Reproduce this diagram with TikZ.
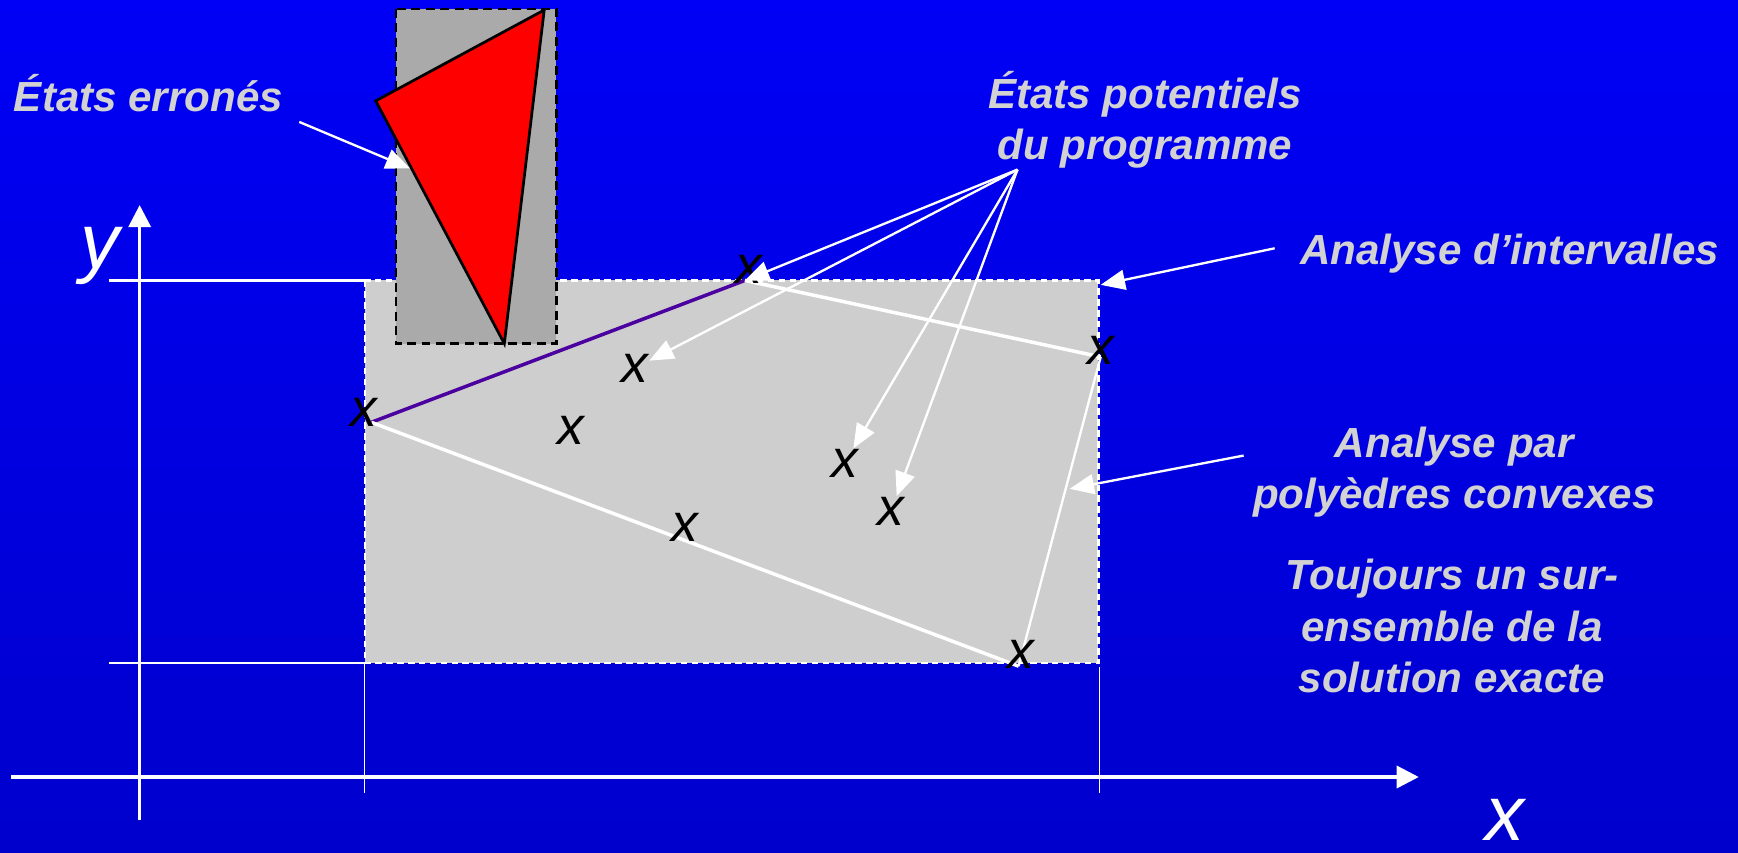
\documentclass[tikz,border=0pt]{standalone}
\usepackage{fontspec}
\setmainfont{Liberation Sans}
\usetikzlibrary{arrows.meta}
\definecolor{slideblue}{RGB}{0, 0, 246}
\definecolor{slidedark}{RGB}{0, 0, 205}
\definecolor{labelgrey}{RGB}{210, 210, 210}
\definecolor{boxlight}{RGB}{206, 206, 206}
\definecolor{boxdark}{RGB}{170, 170, 170}
\definecolor{hullviolet}{RGB}{75, 0, 160}

\begin{document}
\begin{tikzpicture}[x=0.01cm, y=-0.01cm,
    lbltext/.style={text=labelgrey, font=\fontsize{10.8}{13.2}\selectfont\bfseries\itshape, align=center, inner sep=0pt},
    statemark/.style={text=black, font=\fontsize{13.7}{14}\selectfont\itshape, inner sep=0pt},
    axislbl/.style={text=white, font=\fontsize{20}{20}\selectfont\itshape, inner sep=0pt},
    pointer/.style={white, line width=0.6pt, -{Triangle[length=0.22cm, width=0.18cm]}},
    axisline/.style={white, line width=0.85pt, -{Triangle[length=0.2cm, width=0.2cm]}}]
    % slide background
    \shade[top color=slideblue, bottom color=slidedark] (0,0) rectangle (1568,769);
    \useasboundingbox (0,0) rectangle (1568,769);

    % interval box
    \filldraw[fill=boxlight, draw=white, line width=0.6pt, dash pattern=on 1.7pt off 1.1pt] (329,253) rectangle (991,598);

    % erroneous states
    \filldraw[fill=boxdark, draw=black, line width=0.6pt, dash pattern=on 2.3pt off 1.4pt] (357,8) rectangle (502,310);
    \filldraw[fill=red, draw=black, line width=0.7pt] (339,91) -- (491,9) -- (455,310) -- cycle;

    % axes
    \draw[axisline] (126,740) -- (126,185);
    \draw[axisline] (10,701) -- (1280,701);
    \node[axislbl] (ylbl) at (90,231) {y};
    \node[axislbl] (xlbl) at (1358,740) {x};

    % projections of the box on the axes
    \draw[white, line width=0.6pt] (98,253) -- (329,253);
    \draw[white, line width=0.6pt] (98,598) -- (329,598);
    \draw[white, line width=0.4pt] (329,598) -- (329,715);
    \draw[white, line width=0.4pt] (992,602) -- (992,715);

    % convex polyhedron
    \coordinate (hA) at (335,381);
    \coordinate (hB) at (672,253);
    \coordinate (hC) at (993,322);
    \coordinate (hD) at (919,601);
    \draw[hullviolet, line width=0.9pt] (hA) -- (hB);
    \draw[white, line width=0.9pt] (hB) -- (hC);
    \draw[white, line width=0.6pt] (hC) -- (hD);
    \draw[white, line width=0.9pt] (hD) -- (hA);

    % program states
    \node[statemark] (sA) at (328,372) {x};
    \node[statemark] (sB) at (676,243) {x};
    \node[statemark] (sC) at (993,316) {x};
    \node[statemark] (sD) at (921,590) {x};
    \node[statemark] (sE) at (573,332) {x};
    \node[statemark] (sF) at (515,388) {x};
    \node[statemark] (sG) at (762,418) {x};
    \node[statemark] (sH) at (804,461) {x};
    \node[statemark] (sI) at (618,476) {x};

    % labels
    \node[lbltext] (erreurs) at (134,84) {États erronés};
    \node[lbltext] (potentiels) at (1033,108) {États potentiels\\du programme};
    \node[lbltext] (intervalles) at (1362,229) {Analyse d’intervalles};
    \node[lbltext] (polyedres) at (1312,426) {Analyse par\\polyèdres convexes};
    \node[lbltext] (toujours) at (1310,565) {Toujours un sur-\\ensemble de la\\solution exacte};

    % pointers
    \coordinate (errfrom) at (270,110);
    \coordinate (errtip) at (370,152);
    \draw[pointer] (errfrom) -- (errtip);

    \coordinate (potfrom) at (918,153);
    \draw[pointer] (potfrom) -- (hB);
    \draw[pointer] (potfrom) -- (sE);
    \draw[pointer] (potfrom) -- (sG);
    \draw[pointer] (potfrom) -- (sH);

    \coordinate (intfrom) at (1150,224);
    \coordinate (inttip) at (993,257);
    \draw[pointer] (intfrom) -- (inttip);

    \coordinate (polyfrom) at (1122,411);
    \coordinate (polytip) at (965,441);
    \draw[pointer] (polyfrom) -- (polytip);
\end{tikzpicture}
\end{document}
